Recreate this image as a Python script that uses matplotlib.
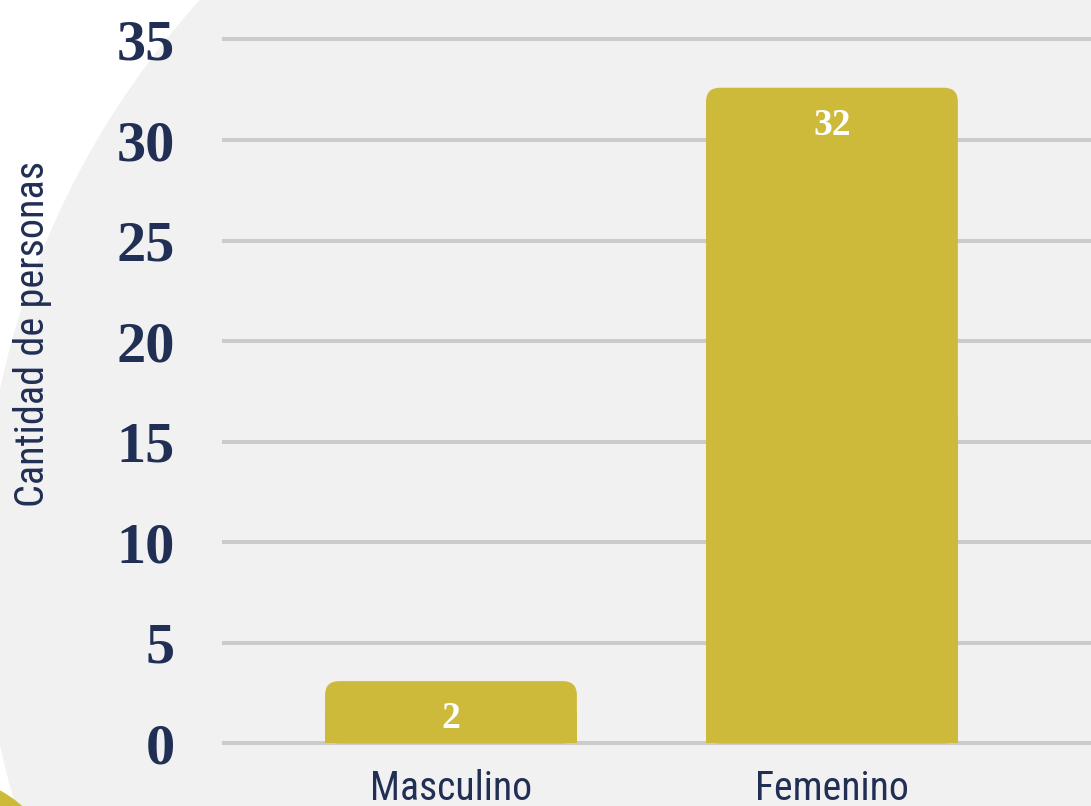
import matplotlib
matplotlib.use("Agg")
from matplotlib import pyplot as plt
from matplotlib import font_manager
from matplotlib.patches import Ellipse, FancyBboxPatch, Rectangle

categories = ["Masculino", "Femenino"]
bar_labels = [2, 32]
bar_heights = [3.1, 32.6]   # drawn heights
yticks = [0, 5, 10, 15, 20, 25, 30, 35]

navy = "#222f55"
gold = "#cdb93a"
grey_bg = "#f1f1f1"
grid_col = "#cbcbcb"

# pick a condensed sans if one is installed
fonts = font_manager.fontManager.ttflist
names = set(f.name for f in fonts)
cond_font = dict(family="Liberation Sans")
for n in ["Roboto Condensed", "Liberation Sans Narrow", "Noto Sans Condensed",
          "Open Sans Condensed"]:
    if n in names:
        cond_font = dict(family=n)
        break
else:
    for f in fonts:
        if f.name in ("Roboto", "Noto Sans", "Open Sans") and \
                str(f.stretch) in ("condensed", "75", "semi-condensed", "87.5"):
            cond_font = dict(family=f.name, stretch=f.stretch)
            break

fig = plt.figure(figsize=(10.91, 8.06), dpi=100, facecolor="white")

# decorative background shapes
fig.patches.append(Ellipse((825 / 1091, 239 / 806), 1688 / 1091, 1688 / 806,
                           transform=fig.transFigure, facecolor=grey_bg,
                           edgecolor="none", zorder=-10))
fig.patches.append(Ellipse((-60 / 1091, -94 / 806), 250 / 1091, 250 / 806,
                           transform=fig.transFigure, facecolor=gold,
                           edgecolor="none", zorder=-9))

ax = fig.add_axes([222 / 1091, 0.0576, 1 - 222 / 1091, 0.9309])
ax.set_facecolor("none")
ax.set_xlim(-0.601, 1.680)
ax.set_ylim(-0.8, 36.5)

for s in ax.spines.values():
    s.set_visible(False)

ax.set_yticks(yticks)
ax.set_yticklabels([str(t) for t in yticks], fontsize=42, fontweight="bold",
                   family="Liberation Serif", color=navy)
ax.tick_params(axis="y", length=0, pad=34)
ax.set_xticks(range(len(categories)))
ax.set_xticklabels(categories, fontsize=31, color=navy, **cond_font)
ax.tick_params(axis="x", length=0, pad=7)

ax.grid(axis="y", color=grid_col, linewidth=2.9)
ax.set_axisbelow(True)
for gl in ax.get_ygridlines():
    gl.set_solid_capstyle("round")

# rounded-top bars
width = 0.661
bars = ax.bar(range(len(categories)), bar_heights, width=width, color="none")
p0 = ax.transData.transform((0, 0))
p1 = ax.transData.transform((1, 1))
aspect = (p1[0] - p0[0]) / (p1[1] - p0[1])
rs = 14 / (p1[0] - p0[0])
for b in bars:
    x, w, h = b.get_x(), b.get_width(), b.get_height()
    ax.add_patch(FancyBboxPatch((x, 0), w, h,
                                boxstyle="round,pad=0,rounding_size=%f" % rs,
                                mutation_aspect=aspect, facecolor=gold,
                                edgecolor="none", zorder=2))
    ax.add_patch(Rectangle((x, 0), w, h / 2, facecolor=gold,
                           edgecolor="none", zorder=2))

for b, lab in zip(bars, bar_labels):
    ax.annotate(str(lab), (b.get_x() + b.get_width() / 2, b.get_height()),
                xytext=(0, -27), textcoords="offset points",
                ha="center", va="center", fontsize=27, fontweight="bold",
                family="Liberation Serif", color="white", zorder=3)

ylab = fig.text(33 / 1091, 0.5856, "Cantidad de personas", rotation=90,
                ha="center", va="center", fontsize=31, color=navy, **cond_font)

# scale the condensed texts so their length matches the picture
fig.canvas.draw()
r = fig.canvas.get_renderer()
h = ylab.get_window_extent(r).height
ylab.set_fontsize(31 * 344 / h)
xl = ax.get_xticklabels()
wx = xl[0].get_window_extent(r).width
for t in xl:
    t.set_fontsize(31 * 162 / wx)

fig.savefig("out.png", dpi=100, facecolor="white")
